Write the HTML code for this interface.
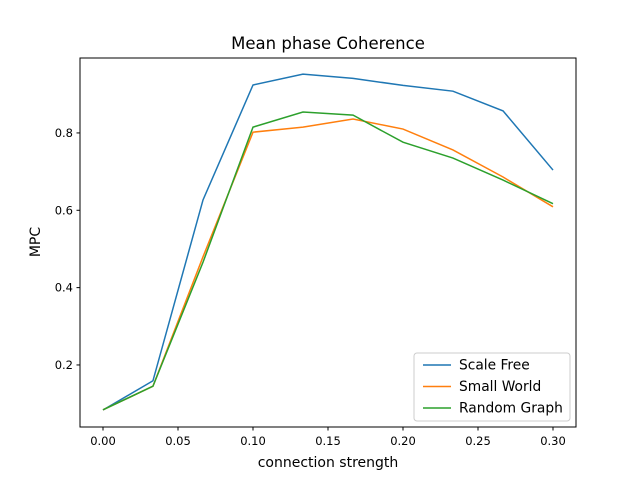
<!DOCTYPE html>
<html><head><meta charset="utf-8"><style>
body{margin:0;background:#fff}
svg{font-family:"DejaVu Sans","Liberation Sans",sans-serif}
</style></head><body>
<svg id="chart" width="640" height="480" viewBox="0 0 640 480">
<rect width="640" height="480" fill="#fff"/>
<text x="328" y="49" text-anchor="middle" font-size="16.5">Mean phase Coherence</text>
<g id="plot"></g>
<rect x="80" y="58" width="496" height="369" fill="none" stroke="#000" stroke-width="1"/>
<text x="328" y="467" text-anchor="middle" font-size="14">connection strength</text>
<text x="40" y="242" text-anchor="middle" font-size="14" transform="rotate(-90 40 242)">MPC</text>
<g>
<rect x="414" y="353" width="156" height="68" rx="3" fill="#fff" fill-opacity="0.8" stroke="#ccc"/>
<g id="legend-items"></g>
</g>
</svg>
<script>
const xFull=[0,0.0333,0.0667,0.1,0.1333,0.1667,0.2,0.2333,0.2667,0.3];
const seriesNames=["Scale Free","Small World","Random Graph"];
const seriesColors=["#1f77b4","#ff7f0e","#2ca02c"];
const scaleFree=[0.0835,0.159,0.627,0.924,0.952,0.941,0.923,0.908,0.857,0.704];
const smallWorld=[0.084,0.145,0.48,0.802,0.815,0.836,0.810,0.756,0.686,0.609];
const randomGraph=[0.084,0.145,0.466,0.815,0.854,0.846,0.776,0.735,0.678,0.617];
const xTicks=[0,0.05,0.1,0.15,0.2,0.25,0.3];
const xTickLabels=["0.00","0.05","0.10","0.15","0.20","0.25","0.30"];
const yTicks=[0.2,0.4,0.6,0.8];
const yTickLabels=["0.2","0.4","0.6","0.8"];
const NS="http://www.w3.org/2000/svg";
function xs(v){return 103+v*1500;}
function ys(v){return 442.3-v*386.7;}
const plot=document.getElementById('plot');
function mk(t,a){const e=document.createElementNS(NS,t);for(const k in a)e.setAttribute(k,a[k]);return e;}
xTicks.forEach((t,i)=>{
 const l=mk('line',{x1:xs(t),x2:xs(t),y1:427,y2:430.5,stroke:'#000'});
 
 
 plot.appendChild(l);
 const tx=mk('text',{x:xs(t),y:445,'text-anchor':'middle','font-size':'11.5'});
 tx.textContent=xTickLabels[i];
 
 
 plot.appendChild(tx);
});
yTicks.forEach((t,i)=>{
 const l=mk('line',{x1:76.5,x2:80,y1:ys(t),y2:ys(t),stroke:'#000'});
 
 
 plot.appendChild(l);
 const tx=mk('text',{x:73,y:ys(t)+4,'text-anchor':'end','font-size':'11.5'});
 tx.textContent=yTickLabels[i];
 
 
 plot.appendChild(tx);
});
const allSeries=[scaleFree,smallWorld,randomGraph];
allSeries.forEach((s,si)=>{
 const pts=s.map((v,i)=>xs(xFull[i])+','+ys(v)).join(' ');
 const p=mk('polyline',{points:pts,fill:'none',stroke:seriesColors[si],'stroke-width':1.5});
 
 
 plot.appendChild(p);
});
const lg=document.getElementById('legend-items');
seriesNames.forEach((n,i)=>{
 const y=365+i*21.5;
 const l=mk('line',{x1:423,x2:451,y1:y,y2:y,stroke:seriesColors[i],'stroke-width':1.5});
 
 
 lg.appendChild(l);
 const t=mk('text',{x:459,y:y+4.5,'font-size':'13.8'});
 t.textContent=n;
 
 
 lg.appendChild(t);
});
</script>
</body></html>
